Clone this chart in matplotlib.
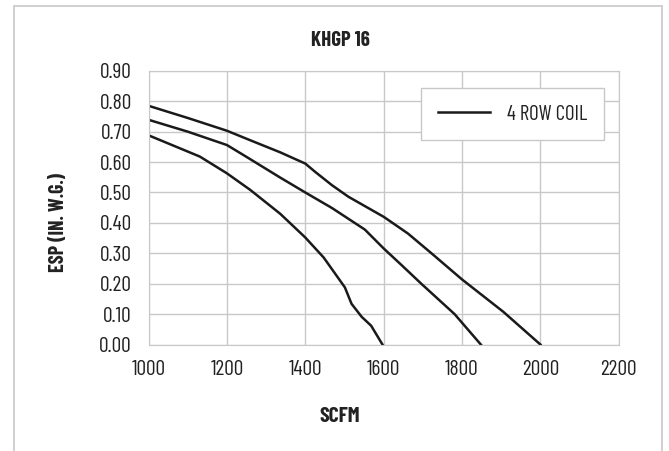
import matplotlib
matplotlib.use("Agg")
import matplotlib.pyplot as plt
from matplotlib.patches import Rectangle
from matplotlib.ticker import FormatStrFormatter

plt.rcParams['font.family'] = ['Barlow Condensed', 'Roboto Condensed', 'DejaVu Sans']

# curve data (SCFM, ESP in. w.g.)
scfm_a = [1000, 1100, 1200, 1259, 1336, 1400, 1425, 1468, 1510, 1600, 1662, 1722, 1800, 1905, 2000]
esp_a = [0.785, 0.745, 0.703, 0.672, 0.632, 0.595, 0.568, 0.524, 0.486, 0.420, 0.365, 0.300, 0.214, 0.108, 0.0]

scfm_b = [1000, 1100, 1200, 1250, 1336, 1400, 1468, 1552, 1600, 1645, 1696, 1781, 1848]
esp_b = [0.739, 0.700, 0.656, 0.617, 0.549, 0.500, 0.449, 0.378, 0.316, 0.262, 0.200, 0.100, 0.0]

scfm_c = [1000, 1131, 1200, 1259, 1336, 1400, 1447, 1501, 1518, 1544, 1568, 1597]
esp_c = [0.688, 0.618, 0.563, 0.509, 0.430, 0.352, 0.286, 0.188, 0.134, 0.091, 0.062, 0.0]

x_ticks = [1000, 1200, 1400, 1600, 1800, 2000, 2200]
y_ticks = [0.0, 0.1, 0.2, 0.3, 0.4, 0.5, 0.6, 0.7, 0.8, 0.9]

fig = plt.figure(figsize=(6.69, 4.51), dpi=100)
ax = fig.add_axes([0.222, 0.236, 0.703, 0.607])

# light frame round the whole chart
fig.patches.append(Rectangle((13.6 / 669, -0.05), (662 - 13.6) / 669, 1.05 - 5.7 / 451,
                             transform=fig.transFigure, fill=False,
                             edgecolor="#c8c8c8", linewidth=1.2))

line_kw = dict(color="#1a1a1a", linewidth=1.8, solid_joinstyle="round")
ax.plot(scfm_a, esp_a, label="4 ROW COIL", **line_kw)
ax.plot(scfm_b, esp_b, **line_kw)
ax.plot(scfm_c, esp_c, **line_kw)

ax.set_xlim(1000, 2200)
ax.set_ylim(0, 0.9)
ax.set_xticks(x_ticks)
ax.set_yticks(y_ticks)
ax.yaxis.set_major_formatter(FormatStrFormatter("%.2f"))
ax.tick_params(length=0, labelsize=15.5, colors="#222222")
ax.tick_params(axis="y", pad=12)
ax.tick_params(axis="x", pad=11)
ax.grid(True, color="#c8c8c8", linewidth=1.0)
ax.set_axisbelow(True)
for s in ax.spines.values():
    s.set_color("#c8c8c8")

fig.text(340 / 669, 1 - 40 / 451, "KHGP 16", fontsize=15, fontweight="bold",
         ha="center", va="center", color="#222222")
fig.text(340 / 669, 1 - 417 / 451, "SCFM", fontsize=15.5, fontweight="bold",
         ha="center", va="center", color="#222222")
fig.text(59 / 669, 1 - 222 / 451, "ESP (IN. W.G.)", fontsize=14.5, fontweight="bold",
         ha="center", va="center", rotation=90, color="#222222")

leg = ax.legend(loc="upper right", bbox_to_anchor=(604 / 669, 1 - 88 / 451),
                bbox_transform=fig.transFigure, fancybox=False, framealpha=1,
                edgecolor="#c8c8c8", fontsize=15, handlelength=2.5,
                handletextpad=0.82, borderpad=0.8, borderaxespad=0)
leg.get_frame().set_linewidth(1.0)
for t in leg.get_texts():
    t.set_color("#222222")

fig.savefig("out.png", dpi=100)
